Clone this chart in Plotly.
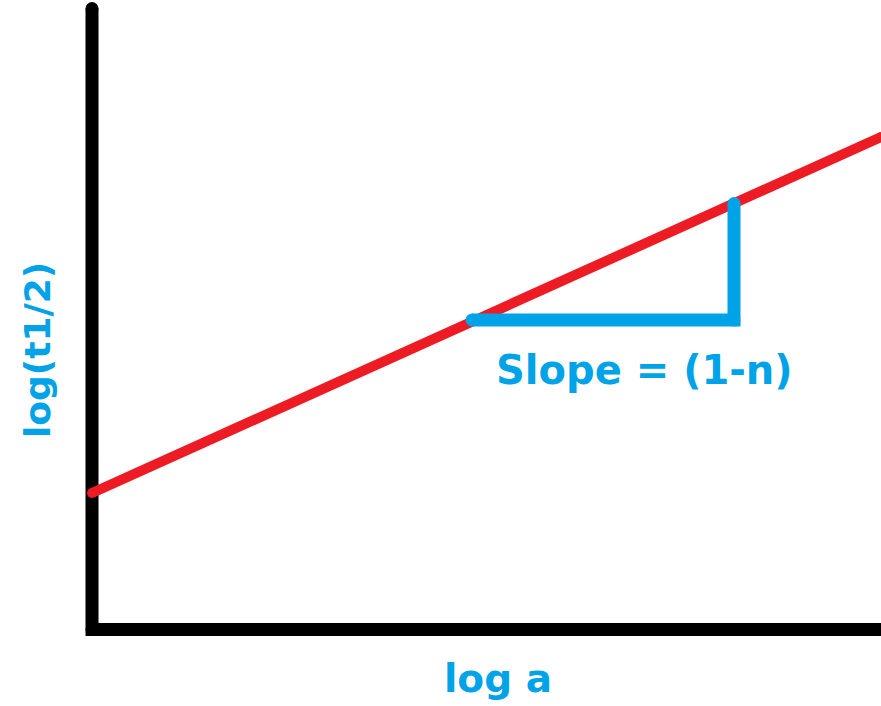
import plotly.graph_objects as go

# Straight-line relation: log(t1/2) against log a
log_a = [0.0, 7.89]
log_t_half = [1.365, 4.925]

# Slope triangle drawn under the line
tri_x = [3.80, 6.42, 6.42]
tri_y = [3.095, 3.095, 4.26]

# Extent of the drawn axes
axis_x = [0.0, 0.0, 8.1]
axis_y = [6.21, 0.0, 0.0]

RED = "#ed1c24"
BLUE = "#00a2e8"
FONT = "DejaVu Sans"

fig = go.Figure()

fig.add_trace(go.Scatter(
    x=axis_x, y=axis_y, mode="lines+markers",
    line=dict(color="black", width=13),
    marker=dict(color="black", size=13, line=dict(width=0)),
    hoverinfo="skip", showlegend=False,
))

fig.add_trace(go.Scatter(
    x=log_a, y=log_t_half, mode="lines+markers",
    line=dict(color=RED, width=10),
    marker=dict(color=RED, size=10, line=dict(width=0)),
    hoverinfo="skip", showlegend=False,
))

fig.add_trace(go.Scatter(
    x=tri_x, y=tri_y, mode="lines+markers",
    line=dict(color=BLUE, width=13),
    marker=dict(color=BLUE, size=13, line=dict(width=0)),
    hoverinfo="skip", showlegend=False,
))

fig.add_annotation(
    x=5.52, y=2.60, xref="x", yref="y", text="<b>Slope = (1-n)</b>",
    showarrow=False, xanchor="center", yanchor="middle",
    font=dict(family=FONT, size=40, color=BLUE),
)
fig.add_annotation(
    x=4.055, y=-0.485, xref="x", yref="y", text="<b>log a</b>",
    showarrow=False, xanchor="center", yanchor="middle",
    font=dict(family=FONT, size=39, color=BLUE),
)
fig.add_annotation(
    x=-0.55, y=2.795, xref="x", yref="y", text="<b>log(t1/2)</b>",
    showarrow=False, xanchor="center", yanchor="middle", textangle=-90,
    font=dict(family=FONT, size=36, color=BLUE),
)

fig.update_layout(
    width=881, height=706,
    margin=dict(l=0, r=0, t=0, b=0, pad=0),
    paper_bgcolor="white", plot_bgcolor="white",
    xaxis=dict(range=[-0.92, 7.89], visible=False, fixedrange=True),
    yaxis=dict(range=[-0.765, 6.295], visible=False, fixedrange=True),
)

fig.write_html("out.html")
